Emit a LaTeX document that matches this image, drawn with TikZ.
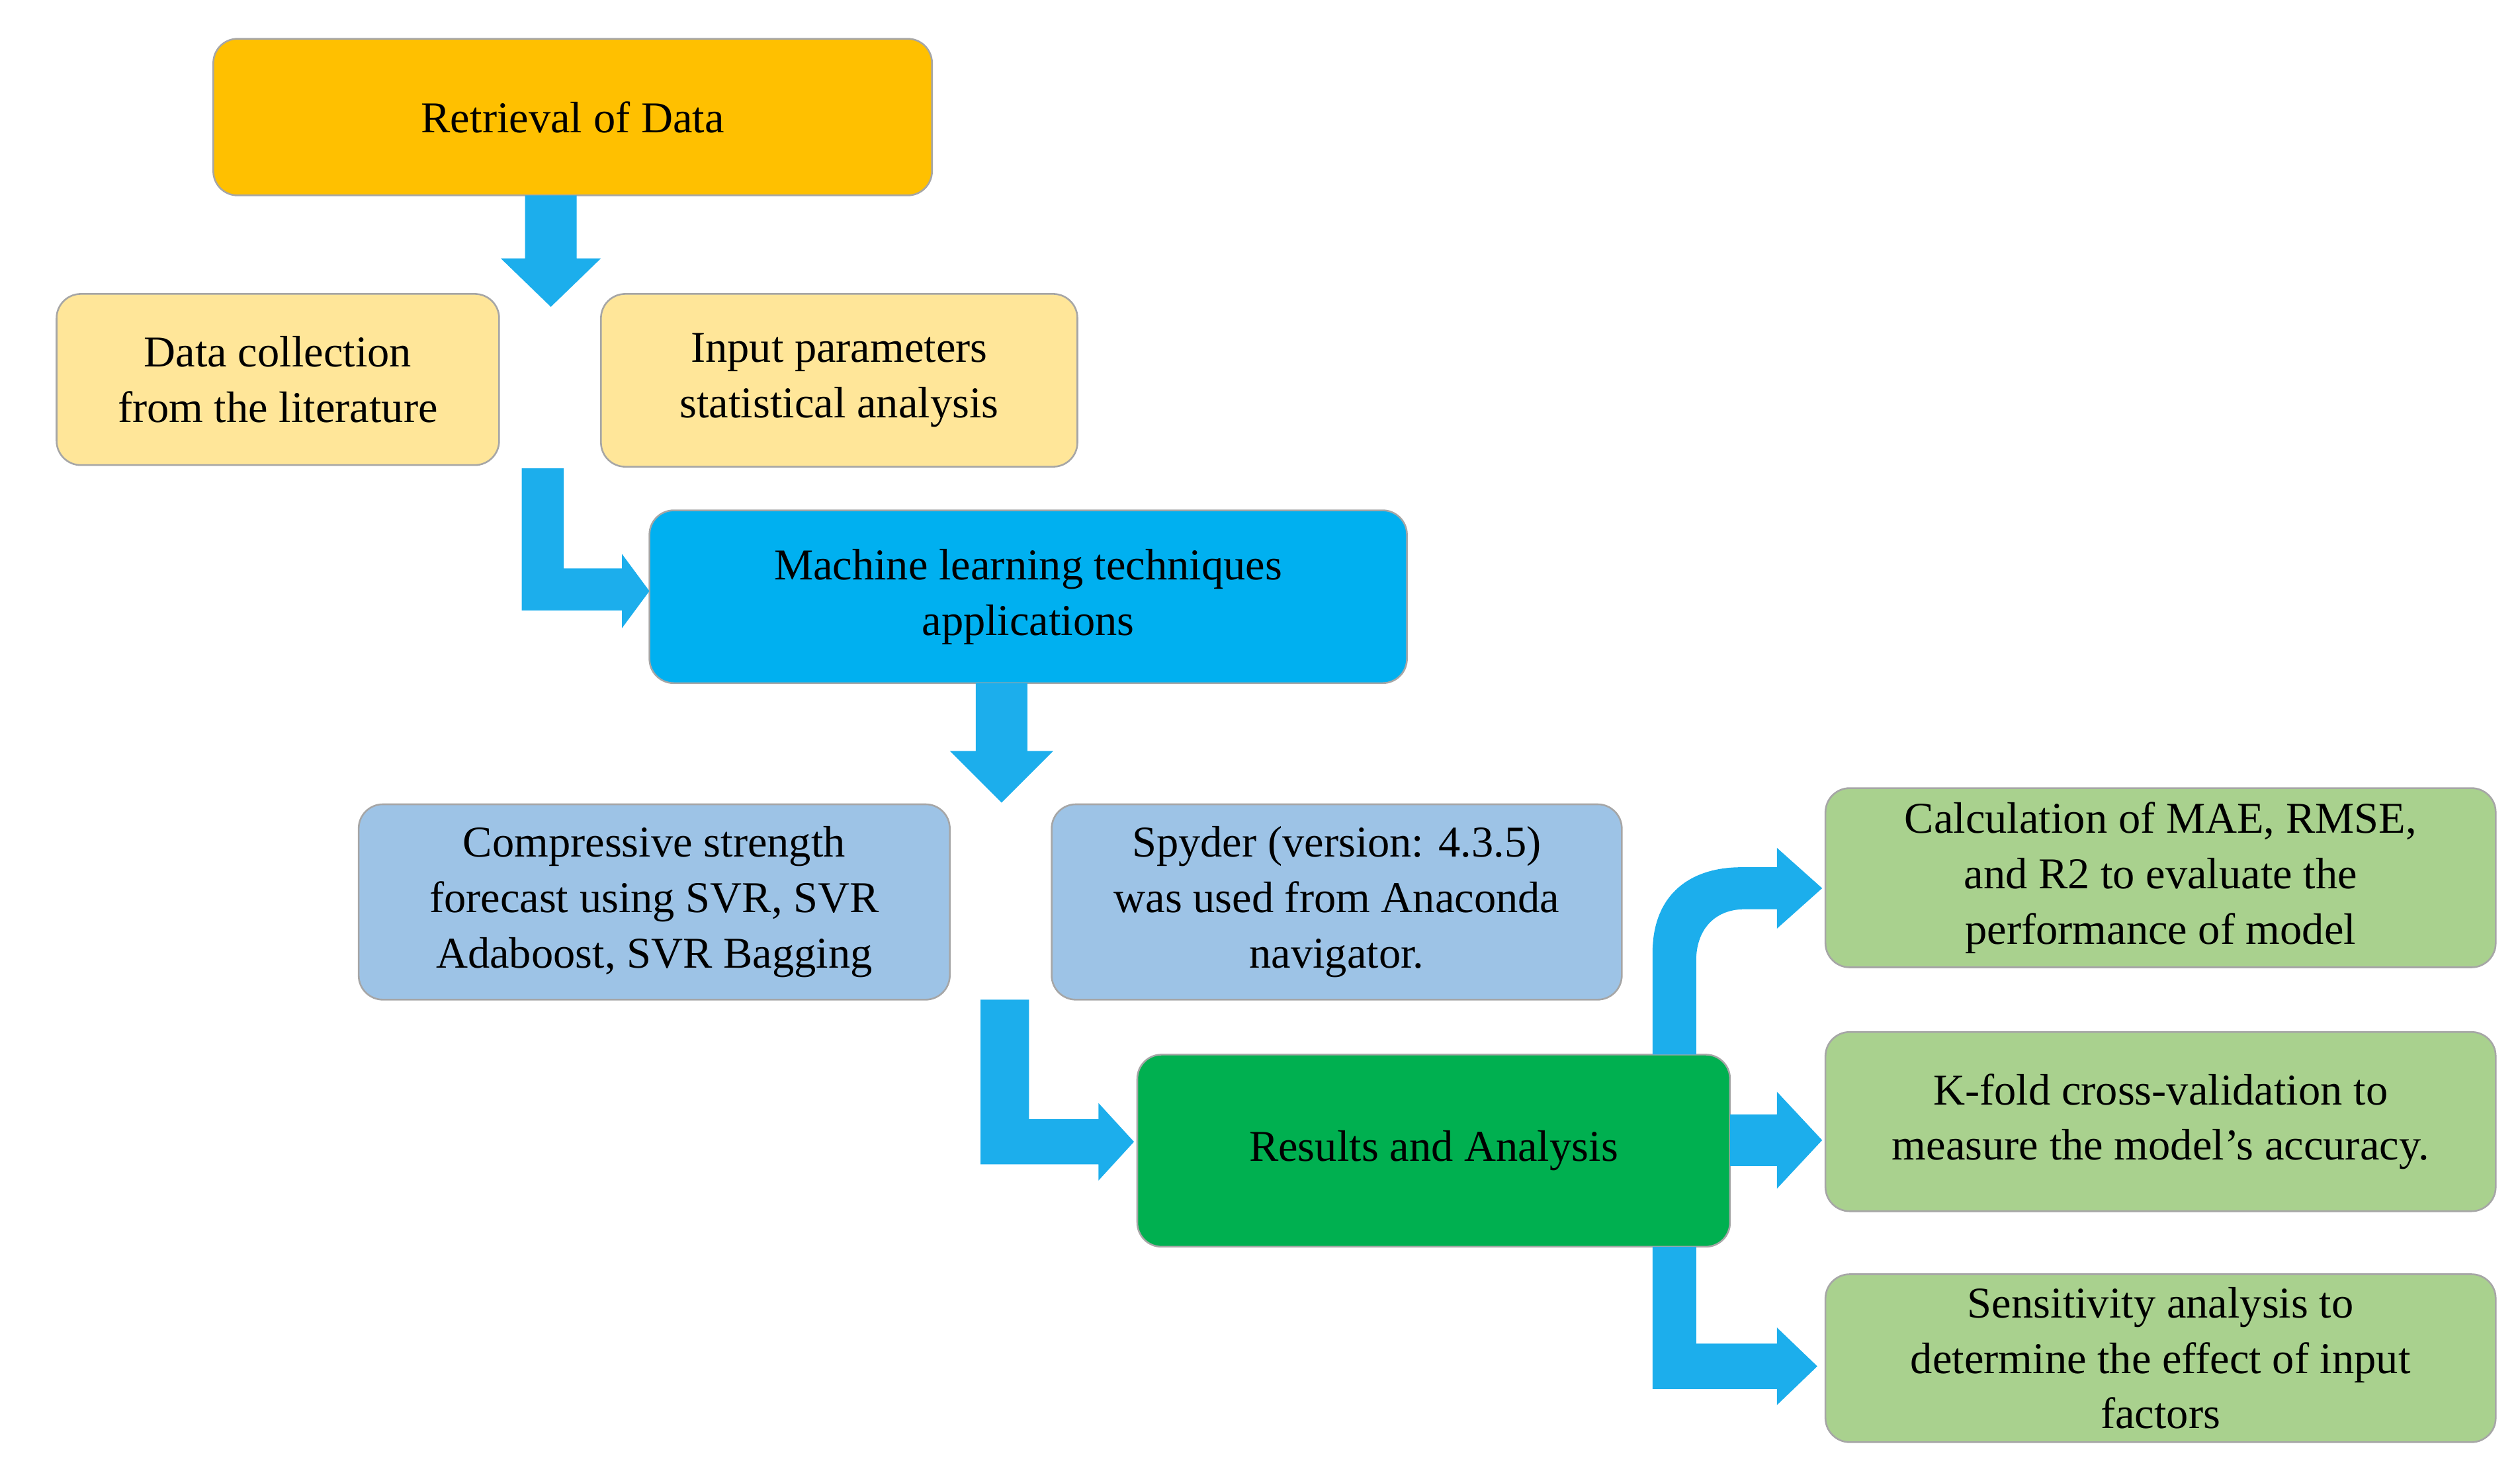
\documentclass[tikz,border=0pt]{standalone}
\usepackage{fontspec}
\setmainfont{Liberation Serif}
\usetikzlibrary{positioning}

\definecolor{gold}{HTML}{FFC000}
\definecolor{paleyellow}{HTML}{FFE699}
\definecolor{skyblue}{HTML}{00B0F0}
\definecolor{paleblue}{HTML}{9DC3E6}
\definecolor{darkgreen}{HTML}{00B050}
\definecolor{palegreen}{HTML}{A9D18E}
\definecolor{arrowblue}{HTML}{1CAEEC}

\begin{document}
\begin{tikzpicture}[
x=0.02cm, y=-0.02cm,
every node/.style={font=\fontsize{15.5}{19.5}\selectfont, align=center},
stage/.style={draw=gray!70, rounded corners=0.3cm, line width=0.6pt, inner sep=2pt},
blockarrow/.style={fill=arrowblue, draw=none}
]
\useasboundingbox (0,0) rectangle (1560,912);

% top stage
\node[stage, fill=gold, minimum width=8.9cm, minimum height=1.94cm] (ret) at (354.5,72.5) {Retrieval of Data};
\node[stage, fill=paleyellow, minimum width=5.48cm, minimum height=2.12cm] (coll) at (172,235) {Data collection\\from the literature};
\node[stage, fill=paleyellow, minimum width=5.9cm, minimum height=2.14cm] (stat) at (519.5,235.5) {Input parameters\\statistical analysis};

% machine learning stage
\node[stage, fill=skyblue, minimum width=9.38cm, minimum height=2.14cm] (ml) at (636.5,369.5) {Machine learning techniques\\applications};
\node[stage, fill=paleblue, minimum width=7.32cm, minimum height=2.42cm] (svr) at (405,558.5) {Compressive strength\\forecast using SVR, SVR\\Adaboost, SVR Bagging};
\node[stage, fill=paleblue, minimum width=7.06cm, minimum height=2.42cm] (spy) at (827.5,558.5) {Spyder (version: 4.3.5)\\was used from Anaconda\\navigator.};

% results stage
\node[stage, fill=darkgreen, minimum width=7.34cm, minimum height=2.38cm] (res) at (887.5,712.5) {Results and Analysis};
\node[stage, fill=palegreen, minimum width=8.3cm, minimum height=2.22cm] (err) at (1337.5,543.5) {Calculation of MAE, RMSE,\\and R2 to evaluate the\\performance of model};
\node[stage, fill=palegreen, minimum width=8.3cm, minimum height=2.22cm] (kfold) at (1337.5,694.5) {K-fold cross-validation to\\measure the model’s accuracy.};
\node[stage, fill=palegreen, minimum width=8.3cm, minimum height=2.08cm] (sens) at (1337.5,841) {Sensitivity analysis to\\determine the effect of input\\factors};

% block arrows
\fill[blockarrow] (325,121) -- (357,121) -- (357,160) -- (372,160) -- (341,190) -- (310,160) -- (325,160) -- cycle;
\fill[blockarrow] (323,290) -- (349,290) -- (349,352) -- (385,352) -- (385,343) -- (402,366) -- (385,389) -- (385,378) -- (323,378) -- cycle;
\fill[blockarrow] (604,423) -- (636,423) -- (636,465) -- (652,465) -- (620,497) -- (588,465) -- (604,465) -- cycle;
\fill[blockarrow] (607,619) -- (637,619) -- (637,693) -- (680,693) -- (680,683) -- (702,707) -- (680,731) -- (680,721) -- (607,721) -- cycle;
\fill[blockarrow] (1071,690) -- (1100,690) -- (1100,676) -- (1128,706) -- (1100,736) -- (1100,722) -- (1071,722) -- cycle;
\fill[blockarrow] (1023,653) -- (1023,590) .. controls (1023,555) and (1045,537) .. (1078,537) -- (1100,537) -- (1100,525) -- (1128,550) -- (1100,575) -- (1100,563) -- (1080,563) .. controls (1062,563) and (1050,575) .. (1050,595) -- (1050,653) -- cycle;
\fill[blockarrow] (1023,772) -- (1050,772) -- (1050,832) -- (1100,832) -- (1100,822) -- (1125,846) -- (1100,870) -- (1100,860) -- (1023,860) -- cycle;
\end{tikzpicture}
\end{document}
